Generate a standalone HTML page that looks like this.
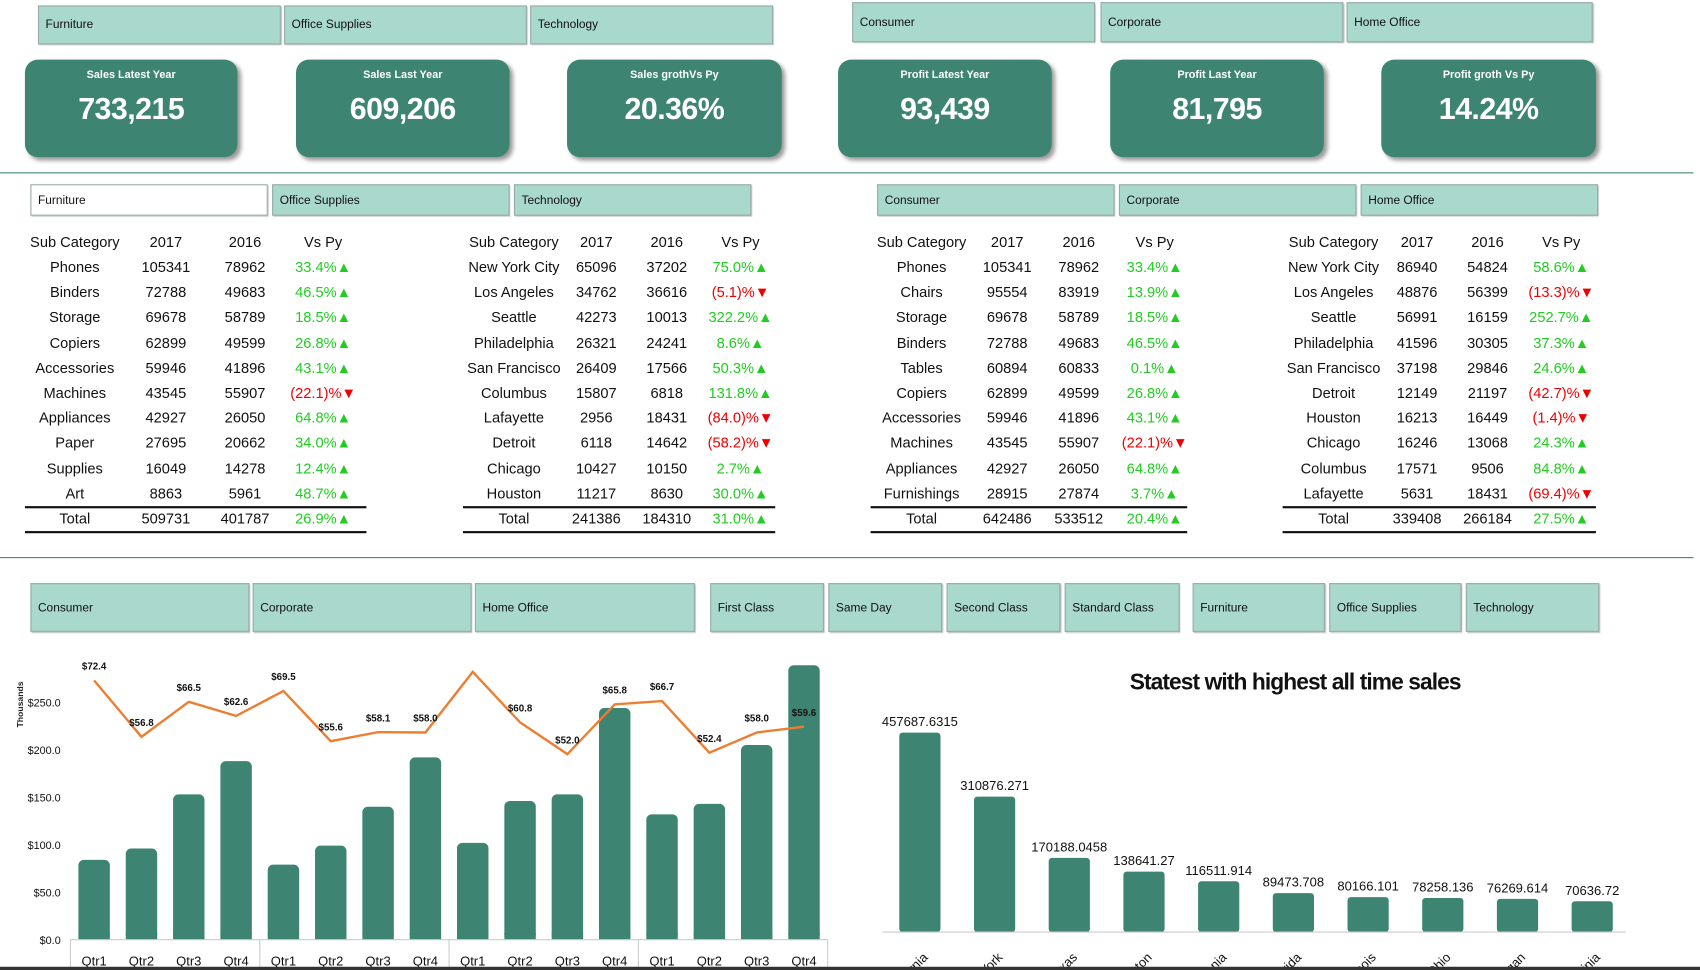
<!DOCTYPE html>
<html><head><meta charset="utf-8">
<style>
html,body{margin:0;padding:0;width:1700px;height:970px;overflow:hidden;background:#fff;}
#root{position:absolute;left:0;top:0;width:1568px;height:895px;transform:scale(1.0842,1.0838);transform-origin:0 0;font-family:"Liberation Sans",sans-serif;}
.sl{position:absolute;background:#a9d8cc;border:1px solid #9aa;box-sizing:border-box;font-size:11px;color:#111;display:flex;align-items:center;padding-left:6px;box-shadow:1px 1px 1px #bbb;}
.sl.w{background:#fff;}
.kpi{position:absolute;top:55px;height:90px;background:#3d8472;border-radius:12px;box-shadow:3px 3px 4px #999;color:#fff;text-align:center;}
.kpi .t{font-size:10px;font-weight:bold;margin-top:9px;}
.kpi .v{font-size:28px;font-weight:bold;margin-top:10px;letter-spacing:-0.5px;}
.hr{position:absolute;left:0;width:1562px;height:1px;background:#3d8472;}
.cell{position:absolute;font-size:13.5px;color:#111;transform:translateX(-50%);white-space:nowrap;}
.tl{position:absolute;height:2px;background:#111;}
</style></head><body>
<div id="root">
<div class="sl" style="left:35px;top:5px;width:224px;height:36px">Furniture</div>
<div class="sl" style="left:262px;top:5px;width:224px;height:36px">Office Supplies</div>
<div class="sl" style="left:489px;top:5px;width:224px;height:36px">Technology</div>
<div class="sl" style="left:786px;top:2px;width:224px;height:37px">Consumer</div>
<div class="sl" style="left:1015px;top:2px;width:224px;height:37px">Corporate</div>
<div class="sl" style="left:1242px;top:2px;width:227px;height:37px">Home Office</div>

<div class="kpi" style="left:23px;width:196px"><div class="t">Sales Latest Year</div><div class="v">733,215</div></div>
<div class="kpi" style="left:273px;width:197px"><div class="t">Sales Last Year</div><div class="v">609,206</div></div>
<div class="kpi" style="left:523px;width:198px"><div class="t">Sales grothVs Py</div><div class="v">20.36%</div></div>
<div class="kpi" style="left:773px;width:197px"><div class="t">Profit Latest Year</div><div class="v">93,439</div></div>
<div class="kpi" style="left:1024px;width:197px"><div class="t">Profit Last Year</div><div class="v">81,795</div></div>
<div class="kpi" style="left:1274px;width:198px"><div class="t">Profit groth Vs Py</div><div class="v">14.24%</div></div>

<div class="hr" style="top:159px"></div>

<div class="sl w" style="left:28px;top:170px;width:219px;height:29px">Furniture</div>
<div class="sl" style="left:251px;top:170px;width:219px;height:29px">Office Supplies</div>
<div class="sl" style="left:474px;top:170px;width:219px;height:29px">Technology</div>
<div class="sl" style="left:809px;top:170px;width:219px;height:29px">Consumer</div>
<div class="sl" style="left:1032px;top:170px;width:219px;height:29px">Corporate</div>
<div class="sl" style="left:1255px;top:170px;width:219px;height:29px">Home Office</div>

<div id="tables"></div>

<div class="hr" style="top:514px"></div>

<div class="sl" style="left:28px;top:538px;width:202px;height:45px">Consumer</div>
<div class="sl" style="left:233px;top:538px;width:202px;height:45px">Corporate</div>
<div class="sl" style="left:438px;top:538px;width:203px;height:45px">Home Office</div>
<div class="sl" style="left:655px;top:538px;width:105px;height:45px">First Class</div>
<div class="sl" style="left:764px;top:538px;width:105px;height:45px">Same Day</div>
<div class="sl" style="left:873px;top:538px;width:105px;height:45px">Second Class</div>
<div class="sl" style="left:982px;top:538px;width:106px;height:45px">Standard Class</div>
<div class="sl" style="left:1100px;top:538px;width:122px;height:45px">Furniture</div>
<div class="sl" style="left:1226px;top:538px;width:122px;height:45px">Office Supplies</div>
<div class="sl" style="left:1352px;top:538px;width:123px;height:45px">Technology</div>

<svg id="c1" style="position:absolute;left:0;top:590px" width="800" height="305"></svg>
<svg id="c2" style="position:absolute;left:800px;top:590px" width="768" height="305"></svg>
<div style="position:absolute;left:0;top:892px;width:1568px;height:3px;background:#333"></div>
</div>
<script>
// ---- tables ----
const t1Rows = [["Phones",105341,78962],["Binders",72788,49683],["Storage",69678,58789],["Copiers",62899,49599],["Accessories",59946,41896],["Machines",43545,55907],["Appliances",42927,26050],["Paper",27695,20662],["Supplies",16049,14278],["Art",8863,5961]];
const t1Total = [509731,401787];
const t2Rows = [["New York City",65096,37202],["Los Angeles",34762,36616],["Seattle",42273,10013],["Philadelphia",26321,24241],["San Francisco",26409,17566],["Columbus",15807,6818],["Lafayette",2956,18431],["Detroit",6118,14642],["Chicago",10427,10150],["Houston",11217,8630]];
const t2Total = [241386,184310];
const t3Rows = [["Phones",105341,78962],["Chairs",95554,83919],["Storage",69678,58789],["Binders",72788,49683],["Tables",60894,60833],["Copiers",62899,49599],["Accessories",59946,41896],["Machines",43545,55907],["Appliances",42927,26050],["Furnishings",28915,27874]];
const t3Total = [642486,533512];
const t4Rows = [["New York City",86940,54824],["Los Angeles",48876,56399],["Seattle",56991,16159],["Philadelphia",41596,30305],["San Francisco",37198,29846],["Detroit",12149,21197],["Houston",16213,16449],["Chicago",16246,13068],["Columbus",17571,9506],["Lafayette",5631,18431]];
const t4Total = [339408,266184];
const tableCfg = [
 {rows:t1Rows,total:t1Total,cols:[69,153,226,298],l:23,r:338,name:"subcategory-table-1"},
 {rows:t2Rows,total:t2Total,cols:[474,550,615,683],l:427,r:715,name:"city-table-1"},
 {rows:t3Rows,total:t3Total,cols:[850,929,995,1065],l:803,r:1095,name:"subcategory-table-2"},
 {rows:t4Rows,total:t4Total,cols:[1230,1307,1372,1440],l:1183,r:1472,name:"city-table-2"}];
const tRoot=document.getElementById('tables');
function cell(txt,x,y,color,bold){
  const d=document.createElement('div');d.className='cell';d.textContent=txt;
  d.style.left=x+'px';d.style.top=(y-9)+'px';if(color)d.style.color=color;if(bold)d.style.fontWeight='bold';
  
  
  tRoot.appendChild(d);return d;
}
function vs(a,b){const p=(a-b)/b*100;return p>=0?[p.toFixed(1)+'%\u25B2','#22cc22']:['('+Math.abs(p).toFixed(1)+')%\u25BC','#ee0000'];}
tableCfg.forEach(c=>{
  const hy=225;
  ["Sub Category","2017","2016","Vs Py"].forEach((h,i)=>cell(h,c.cols[i],hy,null,false));
  c.rows.forEach((r,k)=>{const y=248+k*23.2;cell(r[0],c.cols[0],y);cell(String(r[1]),c.cols[1],y);cell(String(r[2]),c.cols[2],y);const v=vs(r[1],r[2]);cell(v[0],c.cols[3],y,v[1]);});
  const ty=480;cell("Total",c.cols[0],ty);cell(String(c.total[0]),c.cols[1],ty);cell(String(c.total[1]),c.cols[2],ty);const v=vs(c.total[0],c.total[1]);cell(v[0],c.cols[3],ty,v[1]);
  [467,490].forEach(y=>{const l=document.createElement('div');l.className='tl';l.style.left=c.l+'px';l.style.width=(c.r-c.l)+'px';l.style.top=y+'px';
    
    
    tRoot.appendChild(l);});
});
</script>
<script>
// ---- chart 1: quarterly sales (bars, thousands) and profit (line, thousands) ----
const quarters = ["Qtr1","Qtr2","Qtr3","Qtr4","Qtr1","Qtr2","Qtr3","Qtr4","Qtr1","Qtr2","Qtr3","Qtr4","Qtr1","Qtr2","Qtr3","Qtr4"];
const salesK = [84,96,153,188,79,99,140,192,102,146,153,244,132,143,205,289];
const profitK = [72.4,56.8,66.5,62.6,69.5,55.6,58.1,58.0,74.8,60.8,52.0,65.8,66.7,52.4,58.0,59.6];
const profitLabels = ["$72.4","$56.8","$66.5","$62.6","$69.5","$55.6","$58.1","$58.0","","$60.8","$52.0","$65.8","$66.7","$52.4","$58.0","$59.6"];
const yTicks = [0,50,100,150,200,250];
(function(){
 const s=document.getElementById('c1'),NS='http://www.w3.org/2000/svg';
 const base=277, x0=65, step=43.65;
 const y=v=>base-v*0.876, y2=v=>base+2-v*3.33, xc=i=>x0+step*(i+0.5);
 function el(t,a,txt){const e=document.createElementNS(NS,t);for(const k in a)e.setAttribute(k,a[k]);if(txt!==undefined)e.textContent=txt;s.appendChild(e);return e;}
 const ttl=el('text',{x:0,y:0,transform:'translate(21,60) rotate(-90)','font-size':8,'font-weight':'bold','text-anchor':'middle',fill:'#222'},'Thousands');
 
 
 yTicks.forEach(v=>{const t=el('text',{x:56,y:y(v)+4,'font-size':10,'text-anchor':'end',fill:'#111'},'$'+v.toFixed(1));
  
  });
 salesK.forEach((v,i)=>{const r=el('rect',{x:xc(i)-14.5,y:y(v),width:29,height:v*0.876,rx:5,fill:'#3d8472'});
  
  
  el('rect',{x:xc(i)-14.5,y:base-6,width:29,height:6,fill:'#3d8472'});});
 const ax=el('line',{x1:x0,y1:base,x2:x0+step*16,y2:base,stroke:'#ccc'});
 
 
 for(let g=0;g<=4;g++){el('line',{x1:x0+step*4*g,y1:base,x2:x0+step*4*g,y2:305,stroke:'#ccc'});}
 quarters.forEach((q,i)=>{const t=el('text',{x:xc(i),y:301,'font-size':12,'text-anchor':'middle',fill:'#111'},q);
  
  });
 const pts=profitK.map((v,i)=>xc(i)+','+y2(v)).join(' ');
 const pl=el('polyline',{points:pts,fill:'none',stroke:'#ed7d31','stroke-width':2.2});
 
 
 profitK.forEach((v,i)=>{if(!profitLabels[i])return;const t=el('text',{x:xc(i),y:y2(v)-10,'font-size':9,'font-weight':'bold','text-anchor':'middle',fill:'#111'},profitLabels[i]);
  
  });
})();
</script>
<script>
// ---- chart 2: states with highest all time sales ----
const states = ["California","New York","Texas","Washington","Pennsylvania","Florida","Illinois","Ohio","Michigan","Virginia"];
const stateSales = [457687.6315,310876.271,170188.0458,138641.27,116511.914,89473.708,80166.101,78258.136,76269.614,70636.72];
const stateLabels = ["457687.6315","310876.271","170188.0458","138641.27","116511.914","89473.708","80166.101","78258.136","76269.614","70636.72"];
(function(){
 const s=document.getElementById('c2'),NS='http://www.w3.org/2000/svg';
 const base=270, x0=14, step=68.9;
 const h=v=>v*0.000402, xc=i=>x0+step*(i+0.5);
 function el(t,a,txt){const e=document.createElementNS(NS,t);for(const k in a)e.setAttribute(k,a[k]);if(txt!==undefined)e.textContent=txt;s.appendChild(e);return e;}
 const tt=el('text',{x:395,y:46,'font-size':21,'font-weight':'bold','text-anchor':'middle',fill:'#111','textLength':306},'Statest with highest all time sales');
 
 
 stateSales.forEach((v,i)=>{const r=el('rect',{x:xc(i)-19,y:base-h(v),width:38,height:h(v),rx:3,fill:'#3d8472'});
  
  
  const t=el('text',{x:xc(i),y:base-h(v)-6,'font-size':12,'text-anchor':'middle',fill:'#111'},stateLabels[i]);
  
  
  const c=el('text',{x:0,y:0,transform:'translate('+(xc(i)+8)+','+(base+24)+') rotate(-45)','font-size':12,'text-anchor':'end',fill:'#111'},states[i]);
  
  });
 const ax=el('line',{x1:14,y1:base,x2:700,y2:base,stroke:'#ccc'});
 
 
})();
</script>
</body></html>
